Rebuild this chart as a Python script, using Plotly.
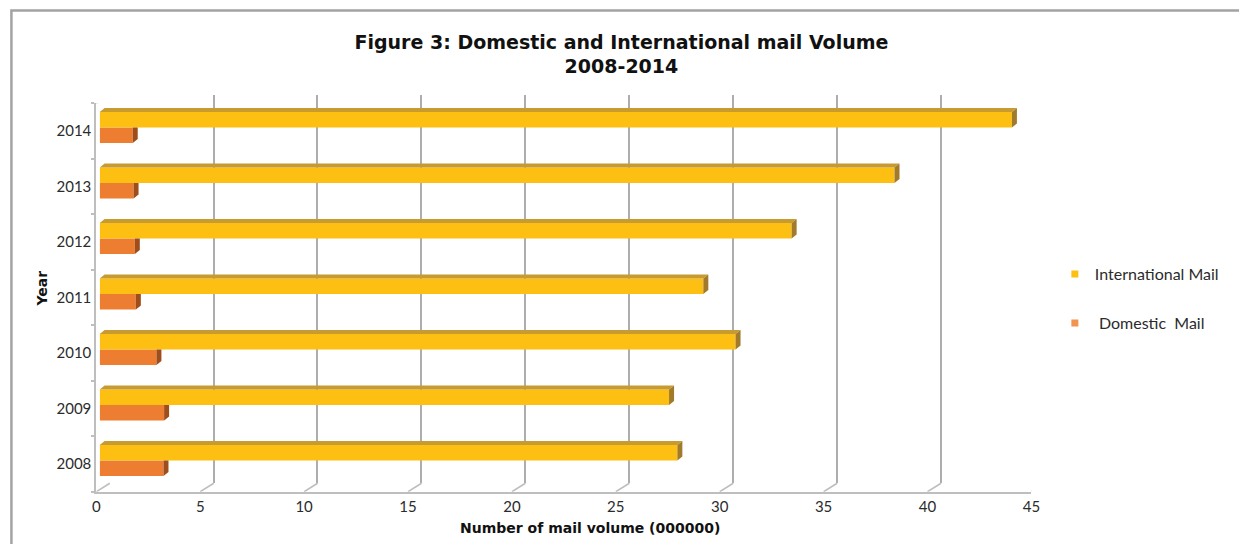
import plotly.graph_objects as go

# ---------------- data ----------------
years = ["2008", "2009", "2010", "2011", "2012", "2013", "2014"]
international_mail = [27.8, 27.4, 30.6, 29.05, 33.3, 38.25, 43.9]
domestic_mail = [3.07, 3.1, 2.73, 1.74, 1.69, 1.63, 1.59]
x_ticks = [0, 5, 10, 15, 20, 25, 30, 35, 40, 45]
x_range = [0, 45]

title_text = "<b>Figure 3: Domestic and International mail Volume<br>2008-2014</b>"
x_title = "<b>Number of mail volume (000000)</b>"
y_title = "<b>Year</b>"
intl_name = "International Mail"
dom_name = "\u00a0Domestic\u00a0 Mail"

# ---------------- layout geometry (pixels) ----------------
W, H = 1239, 544
FX0, FX1 = 93.3, 1038.3      # front plane: x=0 and x=45
FY_TOP, FY_BOT = 103.3, 491.7
DEPTH_X, DEPTH_Y = 13.5, 8.5  # back wall offset
BAR_DX, BAR_DY = 3.4, 3.5     # bars sit slightly behind front plane
FACE_X, FACE_Y = 5, 4         # 3D face thickness of bars
BARGAP = 0.44


def fx(p):
    return p / W


def fy(q):
    return 1 - q / H


C_INTL = "#FCBF12"
C_INTL_TOP = "#C79B30"
C_INTL_SIDE = "#A27B2A"
C_DOM = "#ED7D31"
C_DOM_SIDE = "#9E4D1B"
GRID = "#ADADAD"
AXL = "#BEBEBE"
FONT = "Lato, 'DejaVu Sans', sans-serif"
BFONT = "'DejaVu Sans', Lato, sans-serif"
TXT = "#2b2b2b"

fig = go.Figure()

# back wall subplot (x / y) - only gridlines
fig.add_trace(go.Scatter(x=[None], y=[None], xaxis="x", yaxis="y", mode="markers",
                         showlegend=False, hoverinfo="skip"))

# bars subplot (x2 / y2)
fig.add_trace(go.Bar(y=years, x=domestic_mail, orientation="h", name=dom_name,
                     marker=dict(color=C_DOM, line=dict(width=0)),
                     xaxis="x2", yaxis="y2", showlegend=False))
fig.add_trace(go.Bar(y=years, x=international_mail, orientation="h", name=intl_name,
                     marker=dict(color=C_INTL, line=dict(width=0)),
                     xaxis="x2", yaxis="y2", showlegend=False))

# front axes subplot (x3 / y3)
fig.add_trace(go.Scatter(x=[None] * len(years), y=years, xaxis="x3", yaxis="y3",
                         mode="markers", showlegend=False, hoverinfo="skip"))

# legend entries
fig.add_trace(go.Scatter(x=[None], y=[None], xaxis="x3", yaxis="y3", mode="markers",
                         name=intl_name, legend="legend",
                         marker=dict(symbol="square", size=7, color=C_INTL)))
fig.add_trace(go.Scatter(x=[None], y=[None], xaxis="x3", yaxis="y3", mode="markers",
                         name=dom_name, legend="legend2",
                         marker=dict(symbol="square", size=7, color="#F0944F")))

# ---------------- 3D faces of bars ----------------
band_px = (FY_BOT - FY_TOP) / len(years)
half = (1 - BARGAP) / 2 * band_px  # pixel height of one bar
units_per_px = (x_range[1] - x_range[0]) / (FX1 - FX0)
ddx = FACE_X * units_per_px

shapes = []
for i, (vi, vd) in enumerate(zip(international_mail, domestic_mail)):
    shapes.append(dict(type="path", xref="x2", yref="y2", ysizemode="pixel", yanchor=i,
                       path=f"M 0,{half} L {vi},{half} L {vi + ddx},{half + FACE_Y} L {ddx},{half + FACE_Y} Z",
                       fillcolor=C_INTL_TOP, line=dict(width=0), layer="above"))
    shapes.append(dict(type="path", xref="x2", yref="y2", xsizemode="pixel", xanchor=vi,
                       ysizemode="pixel", yanchor=i,
                       path=f"M 0,0 L 0,{half} L {FACE_X},{half + FACE_Y} L {FACE_X},{FACE_Y} Z",
                       fillcolor=C_INTL_SIDE, line=dict(width=0), layer="above"))
    shapes.append(dict(type="path", xref="x2", yref="y2", xsizemode="pixel", xanchor=vd,
                       ysizemode="pixel", yanchor=i,
                       path=f"M 0,{-half} L 0,0 L {FACE_X},0 L {FACE_X},{-half + FACE_Y} Z",
                       fillcolor=C_DOM_SIDE, line=dict(width=0), layer="above"))

# floor diagonals at each x tick + side wall top edge
for t in x_ticks:
    shapes.append(dict(type="path", xref="x3", yref="y3", xsizemode="pixel", xanchor=t,
                       ysizemode="pixel", yanchor=-0.5,
                       path=f"M 0,0 L {DEPTH_X},{DEPTH_Y}",
                       line=dict(color=AXL, width=1.6), layer="below"))
shapes.append(dict(type="path", xref="x3", yref="y3", xsizemode="pixel", xanchor=0,
                   ysizemode="pixel", yanchor=len(years) - 0.5,
                   path=f"M 0,0 L {DEPTH_X},{DEPTH_Y}",
                   line=dict(color=AXL, width=1.6), layer="below"))

# outer chart frame
shapes.append(dict(type="rect", xref="paper", yref="paper",
                   x0=fx(7.5), x1=1.05, y0=-0.05, y1=fy(10.5),
                   line=dict(color="#A3A3A3", width=2.5), fillcolor="rgba(0,0,0,0)",
                   layer="below"))

fig.update_layout(
    width=W, height=H, autosize=False,
    margin=dict(l=0, r=0, t=0, b=0),
    paper_bgcolor="white", plot_bgcolor="rgba(0,0,0,0)",
    font=dict(family=FONT, size=15, color=TXT),
    barmode="group", bargap=BARGAP, bargroupgap=0,
    title=dict(text=title_text, x=fx(624), xanchor="center", xref="paper",
               y=fy(48.5), yanchor="middle", yref="paper",
               font=dict(family=BFONT, size=19, color="#111111")),
    xaxis=dict(domain=[fx(FX0 + DEPTH_X), fx(FX1 + DEPTH_X)], anchor="y", range=x_range,
               tickmode="array", tickvals=x_ticks, showticklabels=False, ticks="",
               showgrid=True, gridcolor=GRID, gridwidth=1.6, zeroline=False, showline=False,
               fixedrange=True),
    yaxis=dict(domain=[fy(FY_BOT - DEPTH_Y), fy(FY_TOP - DEPTH_Y)], anchor="x", range=[0, 1],
               visible=False, fixedrange=True),
    xaxis2=dict(domain=[fx(FX0 + BAR_DX), fx(FX1 + BAR_DX)], anchor="y2", range=x_range,
                visible=False, fixedrange=True),
    yaxis2=dict(domain=[fy(FY_BOT - BAR_DY), fy(FY_TOP - BAR_DY)], anchor="x2",
                type="category", categoryorder="array", categoryarray=years,
                range=[-0.5, len(years) - 0.5], visible=False, fixedrange=True),
    xaxis3=dict(domain=[fx(FX0), fx(FX1)], anchor="y3", range=x_range,
                tickmode="array", tickvals=x_ticks, showgrid=False, zeroline=False,
                showline=True, linecolor=AXL, linewidth=2, ticks="",
                tickfont=dict(size=15, color=TXT), fixedrange=True),
    yaxis3=dict(domain=[fy(FY_BOT), fy(FY_TOP)], anchor="x3",
                type="category", categoryorder="array", categoryarray=years,
                range=[-0.5, len(years) - 0.5], showgrid=False, zeroline=False,
                showline=True, linecolor=AXL, linewidth=2,
                ticks="outside", ticklen=3, tickwidth=2, tickcolor=AXL, tickson="boundaries",
                tickfont=dict(size=15, color=TXT), fixedrange=True),
    legend=dict(x=fx(1062), y=fy(274), xanchor="left", yanchor="middle",
                bgcolor="rgba(0,0,0,0)", font=dict(size=16, color=TXT)),
    legend2=dict(x=fx(1062), y=fy(323), xanchor="left", yanchor="middle",
                 bgcolor="rgba(0,0,0,0)", font=dict(size=16, color=TXT)),
    shapes=shapes,
    annotations=[
        dict(text=x_title, xref="paper", yref="paper", x=fx(592), y=fy(528),
             xanchor="center", yanchor="middle", showarrow=False,
             font=dict(family=BFONT, size=14, color="#111111")),
        dict(text=y_title, xref="paper", yref="paper", x=fx(38), y=fy(289),
             xanchor="center", yanchor="middle", showarrow=False, textangle=-90,
             font=dict(family=BFONT, size=14, color="#111111")),
    ],
)

fig.write_html("out.html", config={"displayModeBar": False},
               post_script="document.body.style.margin='0';")
